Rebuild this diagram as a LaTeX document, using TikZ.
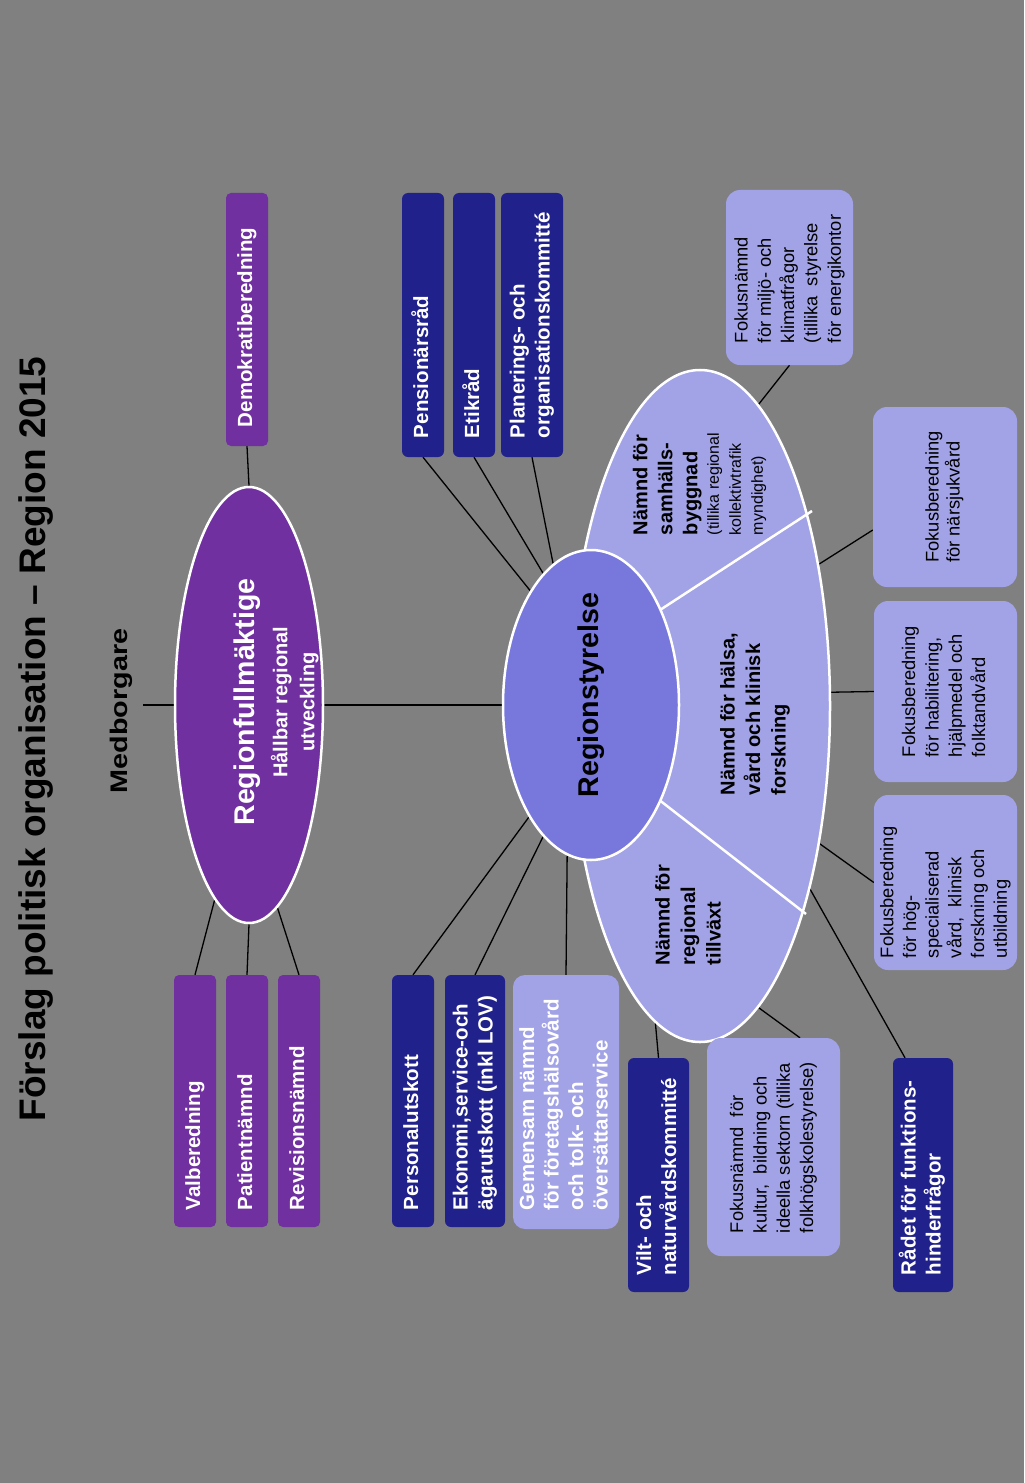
\documentclass[tikz,border=0pt]{standalone}
\usepackage{fontspec}
\usepackage{graphicx}
\setmainfont{Liberation Sans}
\usetikzlibrary{shapes.geometric,calc}
\definecolor{bggray}{RGB}{128,128,128}
\definecolor{purp}{RGB}{112,48,160}
\definecolor{navy}{RGB}{33,33,140}
\definecolor{lav}{RGB}{162,162,230}
\definecolor{rsblue}{RGB}{120,120,220}
\pgfdeclarelayer{bg}
\pgfsetlayers{bg,main}
\newcommand\fs[2]{\fontsize{#1bp}{#2bp}\selectfont}
\newcommand\vl[2]{\rotatebox{90}{\makebox[#1bp][l]{\begin{tabular}{@{}l@{}}#2\end{tabular}}}}
\newcommand\vc[1]{\rotatebox{90}{\begin{tabular}{@{}l@{}}#1\end{tabular}}}
\tikzset{
  pbox/.style={fill=purp, rounded corners=5bp, inner sep=0pt, text=white, font=\fs{20.5}{25}\bfseries},
  nbox/.style={fill=navy, rounded corners=6bp, inner sep=0pt, text=white, font=\fs{20.5}{25}\bfseries},
  lbox/.style={fill=lav, rounded corners=14bp, inner sep=0pt, text=black, font=\fs{18.3}{23.3}},
  gbox/.style={fill=lav, rounded corners=12bp, inner sep=0pt, text=white, font=\fs{20.5}{24.5}\bfseries},
  bigell/.style={ellipse, draw=white, line width=2.5bp, inner sep=0pt},
  txt/.style={inner sep=0pt},
  conn/.style={draw=black, line width=1.3bp},
  divider/.style={draw=white, line width=2.5bp},
}
\begin{document}
\begin{tikzpicture}[x=1bp,y=-1bp]
\begin{pgfonlayer}{bg}
\fill[bggray] (0,0) rectangle (1024,1483);
\end{pgfonlayer}
\useasboundingbox (0,0) rectangle (1024,1483);

% title and citizens
\node[txt, font=\fs{37}{40}\bfseries] (title) at (36,739) {\rotatebox{90}{Förslag politisk organisation – Region 2015}};
\node[inner xsep=11bp, inner ysep=0pt, font=\fs{24}{28}\bfseries] (med) at (121,711) {\rotatebox{90}{\scalebox{1.2}[1]{Medborgare}}};

% ellipses
\node[bigell, fill=purp, minimum width=148bp, minimum height=436bp] (rf) at (249,705) {};
\node[bigell, fill=lav, minimum width=260bp, minimum height=672bp] (outer) at (700,706) {};
\draw[divider] (640,623) -- (812,511);
\draw[divider] (640,785) -- (806,914);
\node[bigell, fill=rsblue, minimum width=176bp, minimum height=310bp] (rs) at (591,705) {};

% ellipse texts
\node[txt, text=white, font=\fs{20}{27}\bfseries] (rftext) at (278,702) {\rotatebox{90}{\begin{tabular}{@{}c@{}}{\fs{28.5}{34}\bfseries Regionfullmäktige}\\[6bp] Hållbar regional\\ utveckling\end{tabular}}};
\node[txt, font=\fs{28.6}{34}\bfseries] (rstext) at (591,695) {\rotatebox{90}{Regionstyrelse}};
\node[txt, font=\fs{20}{25}\bfseries] (samh) at (700,480) {\vl{110}{Nämnd för\\ samhälls-\\ byggnad\\[-3.5bp] {\fs{16}{22}\mdseries (tillika regional}\\[-3bp] {\fs{16}{22}\mdseries kollektivtrafik}\\[-3bp] {\fs{16}{22}\mdseries myndighet)}}};
\node[txt, font=\fs{20}{25.5}\bfseries] (hals) at (755,715) {\vl{160}{Nämnd för hälsa,\\ vård och klinisk\\ forskning}};
\node[txt, font=\fs{20}{25.5}\bfseries] (tillv) at (690,910) {\vl{110}{Nämnd för\\ regional\\ tillväxt}};

% purple boxes
\node[pbox, minimum width=42bp, minimum height=253bp] (demo) at (247,319.5) {\vl{215}{Demokratiberedning}};
\node[pbox, minimum width=42bp, minimum height=252bp] (val) at (195,1101) {\vl{218}{Valberedning}};
\node[pbox, minimum width=42bp, minimum height=252bp] (pat) at (247,1101) {\vl{218}{Patientnämnd}};
\node[pbox, minimum width=42bp, minimum height=252bp] (rev) at (299,1101) {\vl{218}{Revisionsnämnd}};

% navy boxes
\node[nbox, minimum width=42bp, minimum height=264bp] (pens) at (423,325) {\vl{226}{Pensionärsråd}};
\node[nbox, minimum width=42bp, minimum height=264bp] (etik) at (474,325) {\vl{226}{Etikråd}};
\node[nbox, minimum width=62bp, minimum height=264bp] (plan) at (532,325) {\vl{226}{Planerings- och\\ organisationskommitté}};
\node[nbox, minimum width=42bp, minimum height=252bp] (pers) at (413,1101) {\vl{218}{Personalutskott}};
\node[nbox, minimum width=60bp, minimum height=252bp] (ekon) at (475,1101) {\vl{218}{Ekonomi,service-och\\ ägarutskott (inkl LOV)}};
\node[gbox, minimum width=106bp, minimum height=254bp] (gem) at (566,1102) {\vl{216}{Gemensam nämnd\\ för företagshälsovård\\ och tolk- och\\ översättarservice}};
\node[nbox, minimum width=61bp, minimum height=234bp] (vilt) at (658.5,1175) {\vl{200}{Vilt- och\\ naturvårdskommitté}};
\node[nbox, minimum width=60bp, minimum height=234bp] (rad) at (923,1175) {\vl{200}{Rådet för funktions-\\ hinderfrågor}};

% lavender boxes
\node[lbox, minimum width=133bp, minimum height=218bp] (kult) at (773.5,1147) {\vl{172}{Fokusnämnd\ \ för\\ kultur,\ \ bildning och\\ ideella sektorn (tillika\\ folkhögskolestyrelse)}};
\node[lbox, minimum width=127bp, minimum height=175bp] (milj) at (789.5,277.5) {\vl{131}{Fokusnämnd\\ för miljö- och\\ klimatfrågor\\ (tillika\ \ styrelse\\ för energikontor}};
\node[lbox, minimum width=144bp, minimum height=180bp, font=\fs{18.3}{21}] (nars) at (945,497) {\vc{Fokusberedning\\ för närsjukvård}};
\node[lbox, minimum width=143bp, minimum height=181bp] (hab) at (945.5,691.5) {\vc{Fokusberedning\\ för habilitering,\\ hjälpmedel och\\ folktandvård}};
\node[lbox, minimum width=143bp, minimum height=175bp, font=\fs{18.3}{22.7}] (hog) at (945.5,882.5) {\vl{151}{Fokusberedning\\ för hög-\\ specialiserad\\ vård,\ \ klinisk\\ forskning och\\ utbildning}};

% connectors
\begin{pgfonlayer}{bg}
\draw[conn] (med.east |- rf.west) -- (rf.west);
\draw[conn] (rf.east) -- (rs.west);
\draw[conn] (demo.south) -- (rf.north);
\draw[conn] (val.north) -- (rf.260.5);
\draw[conn] (pat.north) -- (rf.south);
\draw[conn] (rev.north) -- (rf.278.6);
\draw[conn] (pens.south) -- (rs.118.6);
\draw[conn] (etik.south) -- (rs.110.4);
\draw[conn] (plan.south) -- (rs.105);
\draw[conn] (pers.north) -- (rs.241.4);
\draw[conn] (ekon.north) -- (rs.250.2);
\draw[conn] (gem.north) -- (rs.261.6);
\draw[conn] (vilt.north) -- (outer.262.1);
\draw[conn] ([xshift=26.5bp]kult.north) -- (outer.281.9);
\draw[conn] ([xshift=-18bp]rad.north) -- (outer.301.8);
\draw[conn] (hog.west) -- (outer.311.2);
\draw[conn] (hab.west) -- (outer.6.6);
\draw[conn] ([yshift=-33bp]nars.west) -- (outer.50.9);
\draw[conn] (milj.south) -- (outer.79.9);
\end{pgfonlayer}
\end{tikzpicture}
\end{document}
